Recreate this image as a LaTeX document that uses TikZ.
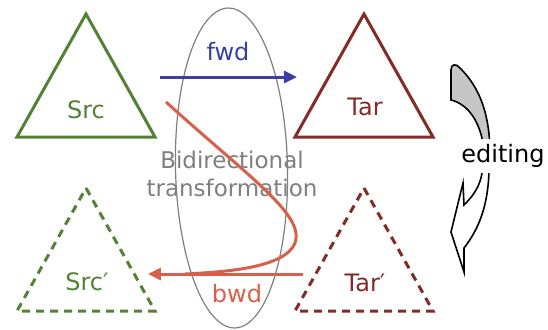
\documentclass[tikz,border=0pt]{standalone}
\usepackage{fontspec}
\setmainfont{DejaVu Sans}
\usepackage{tikz}
\usetikzlibrary{arrows.meta,positioning,calc}
\definecolor{srcgreen}{HTML}{548235}
\definecolor{tarred}{HTML}{822B27}
\definecolor{fwdblue}{HTML}{3A3FA0}
\definecolor{bwdred}{HTML}{D7604A}
\definecolor{bxgray}{HTML}{7F7F7F}
\newcommand{\modeltri}[3]{%
    % #1=apex x, #2=apex y, #3=style
    \draw[#3] (#1,#2) -- (#1+69,#2+123) -- (#1-69,#2+123) -- cycle;
}

\begin{document}
\begin{tikzpicture}[x=0.5pt, y=-0.5pt,
    lbl/.style={font=\fontsize{12}{14}\selectfont, inner sep=1pt},
    tri/.style={line width=1.5pt, line join=miter},
    dtri/.style={tri, dash pattern=on 4pt off 3pt},
    conn/.style={line width=1.5pt, -{Triangle[length=6.5pt,width=6pt]}}
]
    \useasboundingbox (0,0) rectangle (548,329);

    % models
    \modeltri{86}{14}{tri, draw=srcgreen}
    \modeltri{364}{14}{tri, draw=tarred}
    \modeltri{86}{188}{dtri, draw=srcgreen}
    \modeltri{364}{188}{dtri, draw=tarred}

    \node[lbl, text=srcgreen] (src) at (86,110) {Src};
    \node[lbl, text=tarred] (tar) at (365,107) {Tar};
    \node[lbl, text=srcgreen] (srcp) at (87,282) {Src′};
    \node[lbl, text=tarred] (tarp) at (365,283) {Tar′};

    % bx
    \draw[bxgray, line width=0.6pt, rotate around={1.25:(231.5,168)}]
        (231.5,168) ellipse [x radius=56, y radius=160];
    \node[lbl, text=bxgray, align=center, font=\fontsize{11.5}{14}\selectfont] (bx) at (232,174)
        {Bidirectional\\transformation};

    \coordinate (fwdfrom) at (160,77);
    \coordinate (fwdto) at (297,77);
    \coordinate (bwdfrom) at (303,274);
    \coordinate (bwdto) at (148,274);
    \coordinate (loopfrom) at (166,102);
    \coordinate (loopto) at (185,274);

    \draw[conn, fwdblue] (fwdfrom) -- (fwdto);
    \node[lbl, text=fwdblue] (fwd) at (228,52) {fwd};

    \draw[bwdred, line width=1.5pt] (loopfrom) .. controls (250,178) and (305,215) .. (295,243)
        .. controls (285,268) and (225,272) .. (loopto);
    \draw[conn, bwdred] (bwdfrom) -- (bwdto);
    \node[lbl, text=bwdred] (bwd) at (237,294) {bwd};

    % editing arrow
    \draw[line width=0.8pt, fill=gray!45] (451,100) -- (451,70) .. controls (451,64) and (456,63) .. (460,68)
        .. controls (478,86) and (489,110) .. (490,150) -- (484,150)
        .. controls (481,122) and (468,104) .. cycle;
    \draw[line width=0.8pt, fill=white] (489,160) .. controls (490,205) and (478,230) .. (464,248)
        -- (464,272) -- (451,232) -- (463,183) -- (464,205)
        .. controls (476,193) and (483,182) .. (483,160);
    \node[lbl, fill=white, inner sep=2pt, minimum height=17pt] (edit) at (503,156) {editing};
\end{tikzpicture}
\end{document}
